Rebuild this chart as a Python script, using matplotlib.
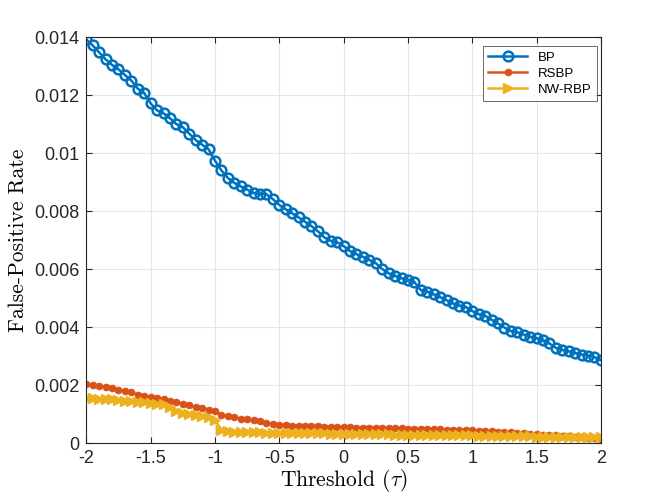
import matplotlib
matplotlib.use("Agg")
import matplotlib.pyplot as plt
import numpy as np

# threshold grid (tau), step 0.05
tau = np.round(np.arange(-40, 41) * 0.05, 2)

# false-positive rates, in units of 1e-3
bp = [13.93, 13.72, 13.48, 13.24, 13.05, 12.90, 12.70, 12.51, 12.23, 12.08,
      11.72, 11.48, 11.38, 11.21, 11.01, 10.90, 10.68, 10.46, 10.30, 10.14,
      9.75, 9.41, 9.15, 8.98, 8.86, 8.75, 8.63, 8.60, 8.59, 8.42,
      8.22, 8.07, 7.93, 7.79, 7.64, 7.49, 7.31, 7.10, 6.98, 6.93,
      6.80, 6.63, 6.52, 6.43, 6.32, 6.21, 6.01, 5.86, 5.77, 5.69,
      5.63, 5.56, 5.28, 5.23, 5.14, 5.04, 4.93, 4.82, 4.75, 4.70,
      4.56, 4.45, 4.40, 4.26, 4.13, 3.99, 3.87, 3.83, 3.75, 3.67,
      3.62, 3.55, 3.44, 3.29, 3.22, 3.17, 3.11, 3.06, 3.02, 2.97,
      2.86]

rsbp = [2.03, 2.00, 1.98, 1.94, 1.89, 1.84, 1.80, 1.77, 1.66, 1.62,
        1.60, 1.56, 1.52, 1.46, 1.41, 1.37, 1.31, 1.25, 1.21, 1.16,
        1.11, 0.98, 0.94, 0.89, 0.85, 0.83, 0.79, 0.75, 0.69, 0.66,
        0.63, 0.62, 0.61, 0.61, 0.60, 0.59, 0.58, 0.57, 0.56, 0.56,
        0.55, 0.55, 0.54, 0.54, 0.53, 0.53, 0.52, 0.52, 0.51, 0.51,
        0.50, 0.50, 0.49, 0.49, 0.48, 0.48, 0.47, 0.46, 0.46, 0.45,
        0.44, 0.43, 0.42, 0.41, 0.39, 0.38, 0.37, 0.35, 0.34, 0.33,
        0.31, 0.30, 0.28, 0.27, 0.25, 0.24, 0.22, 0.21, 0.19, 0.18,
        0.16]

nw_rbp = [1.56, 1.55, 1.54, 1.52, 1.51, 1.49, 1.47, 1.45, 1.43, 1.41,
          1.39, 1.37, 1.34, 1.24, 1.10, 1.03, 1.00, 0.97, 0.94, 0.89,
          0.79, 0.47, 0.42, 0.40, 0.39, 0.38, 0.37, 0.37, 0.36, 0.36,
          0.35, 0.35, 0.35, 0.35, 0.34, 0.34, 0.34, 0.34, 0.33, 0.33,
          0.33, 0.33, 0.32, 0.32, 0.32, 0.31, 0.31, 0.31, 0.30, 0.30,
          0.30, 0.29, 0.29, 0.29, 0.28, 0.28, 0.28, 0.28, 0.27, 0.27,
          0.27, 0.26, 0.26, 0.26, 0.25, 0.25, 0.25, 0.24, 0.24, 0.24,
          0.23, 0.23, 0.23, 0.22, 0.22, 0.22, 0.21, 0.21, 0.21, 0.20,
          0.20]

labels = ["BP", "RSBP", "NW-RBP"]
x_ticks = [-2, -1.5, -1, -0.5, 0, 0.5, 1, 1.5, 2]
x_tick_labels = ["-2", "-1.5", "-1", "-0.5", "0", "0.5", "1", "1.5", "2"]
y_ticks = [0, 0.002, 0.004, 0.006, 0.008, 0.01, 0.012, 0.014]
y_tick_labels = ["0", "0.002", "0.004", "0.006", "0.008", "0.01", "0.012", "0.014"]

plt.rcParams['font.family'] = ['Liberation Sans', 'DejaVu Sans']
plt.rcParams['mathtext.fontset'] = 'cm'

fig = plt.figure(figsize=(6.64, 4.98), dpi=100)
ax = fig.add_axes([0.13, 0.11, 0.775, 0.815])

scale = 1e-3
ax.plot(tau, np.array(bp) * scale, color='#0072BD', lw=1.8, marker='o',
        ms=7, mfc='none', mew=1.8, label=labels[0])
ax.plot(tau, np.array(rsbp) * scale, color='#D95319', lw=1.8, marker='o',
        ms=5, mfc='#D95319', mew=0.5, label=labels[1])
ax.plot(tau, np.array(nw_rbp) * scale, color='#EDB120', lw=1.8, marker='>',
        ms=7.5, mfc='#EDB120', mew=1, label=labels[2])

ax.set_xlim(-2, 2)
ax.set_ylim(0, 0.014)
ax.set_xticks(x_ticks)
ax.set_xticklabels(x_tick_labels)
ax.set_yticks(y_ticks)
ax.set_yticklabels(y_tick_labels)

ax.grid(True, color='#e6e6e6', lw=0.8)
ax.set_axisbelow(True)
ax.tick_params(direction='in', top=True, right=True, length=4, width=0.8,
               colors='#262626', labelsize=13, pad=5)
for side in ax.spines.values():
    side.set_color('#262626')
    side.set_linewidth(0.8)

ax.set_xlabel(r"Threshold ($\tau$)", family='cmr10', fontsize=15.5, labelpad=0)
ax.set_ylabel("False-Positive Rate", family='cmr10', fontsize=15.5, labelpad=4)

leg = ax.legend(loc='upper right', bbox_to_anchor=(597 / 664, 1 - 46 / 498),
                bbox_transform=fig.transFigure, borderaxespad=0,
                fontsize=9.5, frameon=True, fancybox=False,
                edgecolor='#262626', handlelength=3, labelspacing=0.3)
leg.get_frame().set_linewidth(0.6)

fig.savefig("out.png", dpi=100)
